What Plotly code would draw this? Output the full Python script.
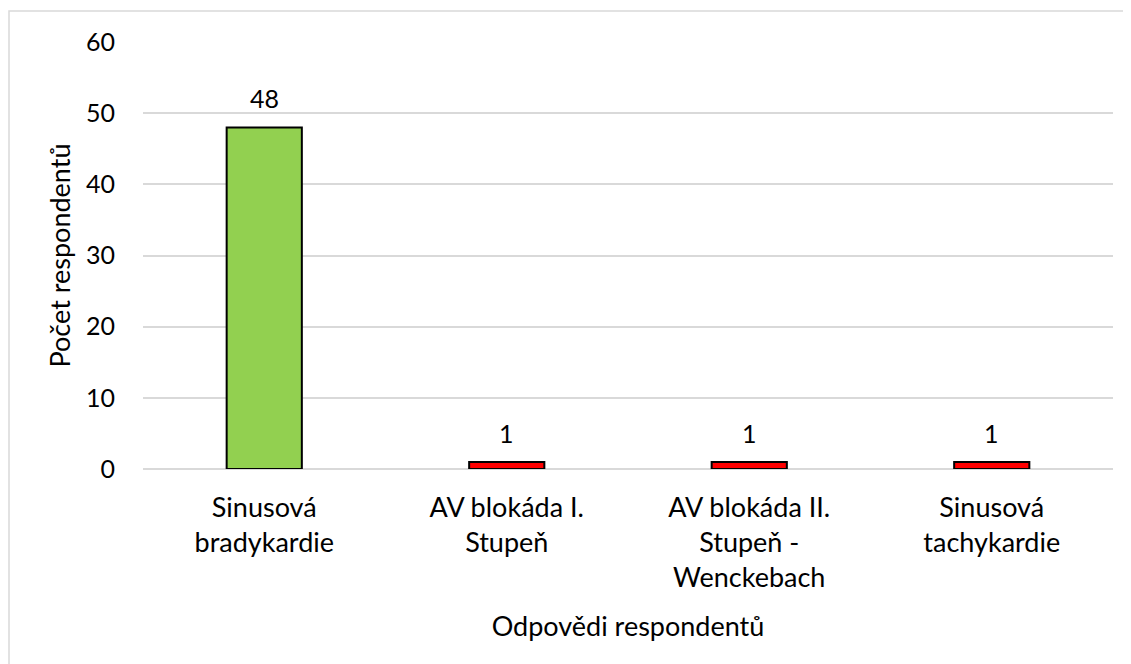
import plotly.graph_objects as go

categories = ["Sinusová<br>bradykardie", "AV blokáda I.<br>Stupeň", "AV blokáda II.<br>Stupeň -<br>Wenckebach", "Sinusová<br>tachykardie"]
values = [48, 1, 1, 1]
bar_colors = ["#92D050", "#FF0000", "#FF0000", "#FF0000"]
y_ticks = [0, 10, 20, 30, 40, 50, 60]

FONT = "Lato"
L, T, W, H = 135, 34, 970, 427
fig = go.Figure()
fig.add_trace(go.Bar(
    x=categories, y=values,
    marker=dict(color=bar_colors, line=dict(color="black", width=2)),
    cliponaxis=False,
))
annotations = [dict(x=c, y=v, text=str(v), showarrow=False, yanchor="bottom",
                    yshift=12, font=dict(family=FONT, size=25, color="black"))
               for c, v in zip(categories, values)]
fig.update_layout(
    width=1131, height=664,
    margin=dict(l=L, r=1131 - L - W, t=T, b=664 - T - H),
    paper_bgcolor="white", plot_bgcolor="white",
    bargap=0.69,
    showlegend=False,
    font=dict(family=FONT, size=27, color="black"),
    annotations=annotations,
    xaxis=dict(
        title=dict(text="Odpovědi respondentů", font=dict(family=FONT, size=27), standoff=24),
        showgrid=False, showline=False, ticks="", ticklabelstandoff=20,
        tickfont=dict(family=FONT, size=27),
    ),
    yaxis=dict(
        title=dict(text="Počet respondentů", font=dict(family=FONT, size=27), standoff=7),
        range=[0, 60], tickvals=y_ticks, showgrid=True, gridcolor="#D9D9D9", gridwidth=1.5,
        zeroline=True, zerolinecolor="#D9D9D9", zerolinewidth=1.5,
        showline=False, ticks="", ticklabelstandoff=27,
        tickfont=dict(family=FONT, size=25),
    ),
    shapes=[dict(type="rect", xref="paper", yref="paper",
                 x0=(1 - L) / W, x1=(1140 - L) / W,
                 y0=-(680 - T - H) / H, y1=1 + (T - 3) / H,
                 line=dict(color="#D9D9D9", width=1.5), layer="below")],
)
fig.write_html("out.html")
